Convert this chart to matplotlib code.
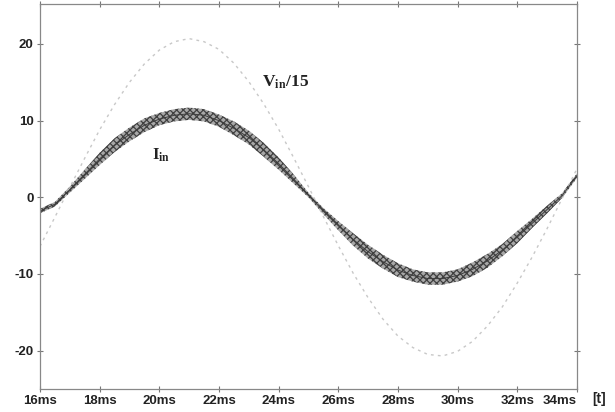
import matplotlib
matplotlib.use("Agg")
import matplotlib.pyplot as plt

# time axis (ms), sampled every 0.5 ms
t_ms = [16.0, 16.5, 17.0, 17.5, 18.0, 18.5, 19.0, 19.5, 20.0, 20.5,
        21.0, 21.5, 22.0, 22.5, 23.0, 23.5, 24.0, 24.5, 25.0, 25.5,
        26.0, 26.5, 27.0, 27.5, 28.0, 28.5, 29.0, 29.5, 30.0, 30.5,
        31.0, 31.5, 32.0, 32.5, 33.0, 33.5, 34.0]

# input voltage divided by 15
vin_15 = [-6.4, -2.6, 1.3, 5.1, 8.8, 12.1, 15.0, 17.4, 19.2, 20.3,
          20.7, 20.3, 19.3, 17.5, 15.1, 12.2, 8.9, 5.2, 1.4, -2.5,
          -6.3, -9.9, -13.1, -15.9, -18.1, -19.6, -20.5, -20.7, -20.1, -18.8,
          -16.8, -14.3, -11.2, -7.8, -4.1, -0.2, 3.7]

# input current (band centre)
i_in = [-1.8, -0.9, 1.0, 3.0, 5.0, 6.8, 8.2, 9.4, 10.2, 10.7,
        10.9, 10.7, 10.0, 9.0, 7.8, 6.2, 4.4, 2.4, 0.3, -1.8,
        -3.7, -5.5, -7.1, -8.4, -9.5, -10.2, -10.6, -10.6, -10.2, -9.4,
        -8.3, -6.9, -5.2, -3.4, -1.6, 0.2, 2.8]

# half thickness of the switching ripple band
i_ripple = [0.3, 0.3, 0.4, 0.6, 0.8, 0.9, 0.9, 0.9, 0.8, 0.8,
            0.8, 0.8, 0.8, 0.9, 0.9, 0.9, 0.8, 0.6, 0.3, 0.4,
            0.6, 0.8, 0.9, 0.9, 0.9, 0.8, 0.8, 0.8, 0.8, 0.9,
            0.9, 0.8, 0.8, 0.6, 0.5, 0.3, 0.3]

x_ticks = [16, 18, 20, 22, 24, 26, 28, 30, 32, 34]
x_labels = ["16ms", "18ms", "20ms", "22ms", "24ms", "26ms", "28ms", "30ms", "32ms", "34ms"]
y_ticks = [-20, -10, 0, 10, 20]

plt.rcParams["mathtext.fontset"] = "stix"
plt.rcParams["hatch.linewidth"] = 0.9
plt.rcParams["axes.unicode_minus"] = False

fig = plt.figure(figsize=(6.15, 4.12), dpi=100)
ax = fig.add_axes([0.065, 0.056, 0.873, 0.934])

ax.plot(t_ms, vin_15, color="#c8c8c8", linewidth=1.0, linestyle=(0, (2, 3)))

lower = [c - r for c, r in zip(i_in, i_ripple)]
upper = [c + r for c, r in zip(i_in, i_ripple)]
ax.fill_between(t_ms, lower, upper, facecolor="#a8a8a8", edgecolor="#404040",
                hatch="xxxxx", linewidth=0)
ax.plot(t_ms, i_in, color="#3c3c3c", linewidth=0.7)

ax.text(23.45, 15.0, r"V$_{\mathbf{in}}$/15", fontsize=12.5, fontweight="bold",
        family="Liberation Serif", va="center", ha="left", color="#222222")
ax.text(19.75, 5.5, r"I$_{\mathbf{in}}$", fontsize=12, fontweight="bold",
        family="Liberation Serif", va="center", ha="left", color="#222222")

ax.set_xlim(16, 34)
ax.set_ylim(-25, 25.2)
ax.set_xticks(x_ticks)
ax.set_xticklabels(x_labels)
ax.set_yticks(y_ticks)
ax.tick_params(direction="inout", length=5, width=0.8, color="#777777",
               top=True, right=True, pad=2, labelsize=9.5)
for lab in ax.get_xticklabels() + ax.get_yticklabels():
    lab.set_fontweight("bold")
    lab.set_family("Liberation Sans")
    lab.set_color("#222222")
ax.get_xticklabels()[-1].set_horizontalalignment("right")
for sp in ax.spines.values():
    sp.set_color("#888888")
    sp.set_linewidth(0.9)

fig.text(599 / 615, 1 - 399 / 412, "[t]", fontsize=10, fontweight="bold",
         family="Liberation Sans", ha="center", va="center", color="#222222")

fig.savefig("out.png", dpi=100)
